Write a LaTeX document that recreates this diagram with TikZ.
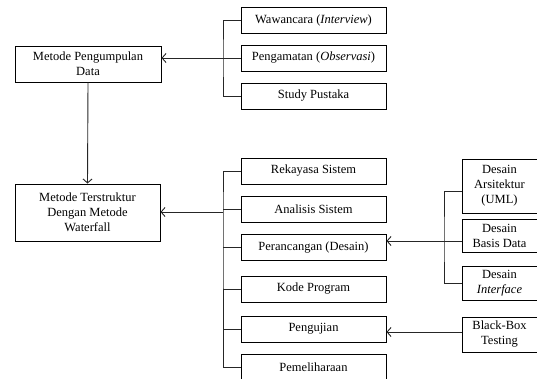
\documentclass[tikz,border=0pt]{standalone}
\usepackage{fontspec}
\setmainfont{Liberation Serif}
\usetikzlibrary{arrows.meta}
\begin{document}
\begin{tikzpicture}[x=1pt,y=-1pt,
  box/.style={draw,line width=0.9pt,inner sep=1pt,align=center,
    font=\fontsize{12.5}{15}\selectfont},
  stage/.style={box,minimum width=145pt,minimum height=26pt},
  sub/.style={box,minimum width=75pt},
  link/.style={draw=black!85,line width=0.9pt},
  arrow/.style={link,-{Straight Barb[length=4pt,width=9pt]}}]
  \useasboundingbox (0,0) rectangle (537,378);
  % main methods
  \node[box,minimum width=146pt,minimum height=36pt] (peng) at (88,64)
    {Metode Pengumpulan\\Data};
  \node[box,minimum width=145pt,minimum height=57pt] (ter) at (87.5,212.5)
    {Metode Terstruktur\\Dengan Metode\\Waterfall};
  % data collection
  \node[stage] (waw) at (313.5,20) {Wawancara (\textit{Interview})};
  \node[stage] (obs) at (313.5,58) {Pengamatan (\textit{Observasi})};
  \node[stage] (pus) at (313.5,96) {Study Pustaka};
  % waterfall stages
  \node[stage] (rek) at (313.5,171) {Rekayasa Sistem};
  \node[stage] (ana) at (313.5,209) {Analisis Sistem};
  \node[stage] (per) at (313.5,247.5) {Perancangan (Desain)};
  \node[stage] (kod) at (313.5,289) {Kode Program};
  \node[stage] (pgj) at (313.5,329) {Pengujian};
  \node[stage] (pem) at (313.5,367) {Pemeliharaan};
  % design and testing
  \node[sub,minimum height=54pt] (ars) at (499.5,186) {Desain\\Arsitektur\\(UML)};
  \node[sub,minimum height=33pt] (bas) at (499.5,235.5) {Desain\\Basis Data};
  \node[sub,minimum height=34pt] (int) at (499.5,283) {Desain\\\textit{Interface}};
  \node[sub,minimum height=35pt] (bbt) at (499.5,334.5) {Black-Box\\Testing};
  % junctions
  \coordinate (jd) at (223,58);
  \coordinate (jw) at (223,212);
  \coordinate (jds) at (444,241);
  % connectors
  \draw[link] (waw.west) -| (jd) |- (pus.west);
  \draw[link] (obs.west) -- (jd);
  \draw[arrow] (jd) -- (jd -| peng.east);
  \draw[arrow] (peng.south) -- (ter.north);
  \draw[link] (rek.west) -| (jw) |- (pem.west);
  \foreach \s in {ana,per,kod,pgj}
    \draw[link] (\s.west) -- (\s.west -| jw);
  \draw[arrow] (jw) -- (jw -| ter.east);
  \draw[link] ([yshift=-5pt]ars.west) -| (jds) |- (int.west);
  \draw[arrow] (bas.west |- jds) -- (jds -| per.east);
  \draw[arrow] ([yshift=2.5pt]bbt.west) -- ([yshift=2.5pt]bbt.west -| pgj.east);
\end{tikzpicture}
\end{document}
